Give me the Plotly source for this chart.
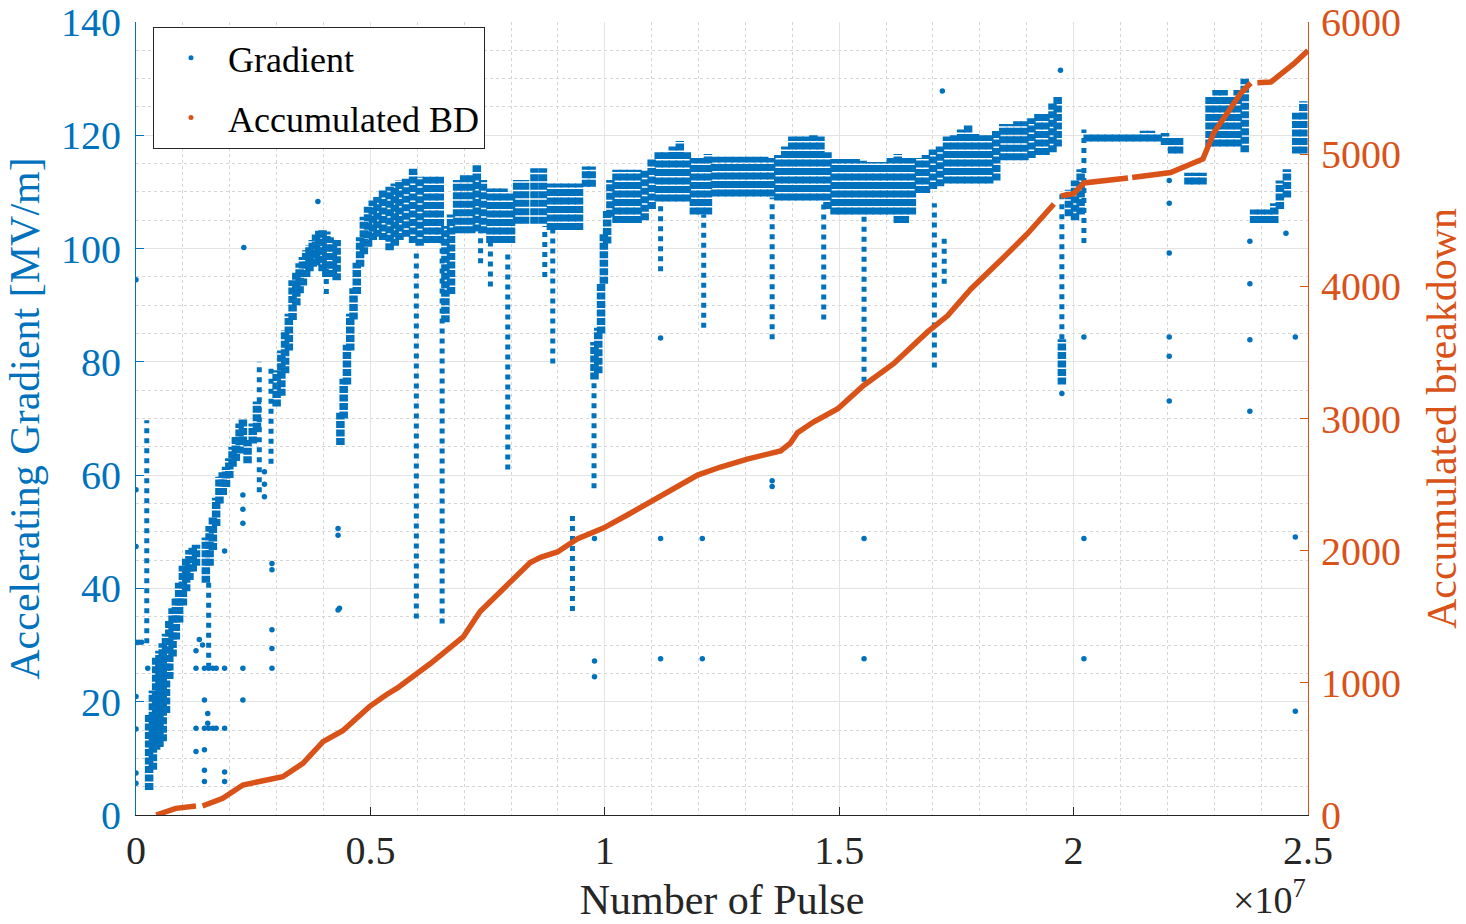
import plotly.graph_objects as go

BLUE = "#0072BD"
ORANGE = "#D95319"
FONT = "Times New Roman, Liberation Serif, DejaVu Serif, serif"

# ---- Gradient: dense band columns (pulse x1e7, low MV/m, high MV/m) ----
band_x = [0.028,0.036,0.043,0.050,0.057,0.064,0.071,0.078,0.085,0.092,0.100,0.107,0.114,0.121,0.128,
          0.149,0.157,0.164,0.171,0.178,0.185,0.192,0.199,0.206,0.213,0.221,0.228,0.238,0.249,0.258,
          0.300,0.310,0.318,0.326,0.334,0.342,0.349,0.356,0.363,0.370,0.377,0.384,0.391,0.398,0.406,0.413,0.420,0.428,
          0.436,0.443,0.450,0.457,0.464,0.471,0.478,0.486,0.495,0.505,0.515,0.527,0.541,0.552,0.562,0.576,0.591,
          0.605,0.620,0.635,0.648,0.660,0.672,0.685,0.700,0.715,0.727,0.740,0.756,0.770,0.784,0.800,0.813,0.830,
          0.850,0.868,0.885,0.900,0.915,0.930,0.945,0.960,0.972,0.978,0.986,0.992,0.998,1.005,1.012,1.025,1.040,
          1.055,1.070,1.085,1.100,1.115,1.130,1.145,1.160,1.175,1.190,1.205,1.220,1.235,1.250,1.265,1.280,1.295,
          1.310,1.325,1.340,1.355,1.370,1.385,1.400,1.415,1.430,1.445,1.460,1.475,1.490,1.505,1.520,1.535,1.550,
          1.565,1.580,1.595,1.610,1.625,1.640,1.655,1.670,1.685,1.700,1.715,1.730,1.745,1.760,1.775,1.790,1.805,
          1.820,1.835,1.850,1.865,1.880,1.895,1.910,1.925,1.940,1.955,1.966,1.975,1.990,2.003,2.015,2.030,2.045,
          2.060,2.075,2.090,2.105,2.120,2.135,2.150,2.165,2.180,2.195,2.210,2.225,2.245,2.260,2.275,2.290,2.305,
          2.320,2.335,2.350,2.365,2.385,2.400,2.415,2.428,2.440,2.455,2.475,2.490]
band_lo = [4.4,8,11.5,12,13,18,24,28,31,34,37,39.5,41.5,43,44,
           41,44,46.8,51,55,56.5,57.9,59.5,61.5,62.5,63.8,65.6,62.1,65.6,68,
           72.1,74,78,82,87.4,90,92.1,93.5,95,96,96.8,97,97.4,96,95,95,95,94.4,
           65.3,70,76,82,87.5,92,96.8,99,100.3,101.5,102.1,101.5,99.7,100.5,101.5,102.1,101,
           100.5,101,101,101,87,92,102.7,102.7,102.7,103,102.7,101,101,101,101,104.4,104.4,
           104.4,104.4,103.3,103.3,103.3,103.3,103.3,110.9,110.9,76.9,78,85,93.8,100.9,105.6,104.5,104.5,
           104.5,104.5,105,107,108.3,108.3,108.3,108.3,108.3,106,106,106,109.2,109.2,109.2,109.2,109.2,
           109.2,109.2,109.2,109.2,108.5,108.5,108.5,108.5,108.5,108.5,108.5,107,106,106,106,106,106,
           106,106,106,106,104.5,104.5,106,109.8,109.8,110.5,111,111.5,111.5,111.5,111.5,111.5,111.5,
           111.5,112,115.6,115.6,115.6,115.6,116,116.5,116.5,117,118,76,105.7,105,106,118.9,118.9,
           118.9,118.9,118.9,118.9,118.9,118.9,118.9,118.9,118.9,118.3,116.8,116.8,111.3,111.3,111.3,118,118,
           118,118,118,117,104.5,104.5,104.5,104.5,107,109,116.8,116.8]
band_hi = [17.9,22,27.9,29,30.3,32,34.4,36.5,38.5,41,44,45.5,46.8,47.2,47.7,
           49,51,52.6,56,59.7,60.5,61.5,63,65,67,69.1,70,66.2,69.1,73,
           78.5,82,85.6,88.5,94.4,96,97.4,98.5,99.7,100.6,101.5,102.5,103.3,103.5,103,102,101.5,101.5,
           71,77,83,88.5,93,97.5,102,105.6,107.4,108.5,109.1,110.3,110.9,111.5,112.1,112.4,114.1,
           112.7,112.7,112.7,112.7,104,106,112.1,113,113,114.7,112.1,110.6,110.6,110.6,110,112.1,112.1,
           114.2,114.2,111.5,111.5,111.5,111.5,111.5,114.5,114.5,83.5,86,94,102.6,106.8,112.1,113.9,113.9,
           113.9,113.9,114,116,117,117,118,119,117,116,116,116.7,116.2,116.2,116.2,116.2,116.2,
           116.2,116.2,116.2,116,116.5,118,119.8,119.8,119.8,120,119.8,117,115.8,115.8,115.8,115.8,115.5,
           115.3,115.3,115.3,116,116.7,116,116,116,116.5,117.5,118,119.8,120,121,122,120.5,120,
           120,121,122,122,122.5,122.5,123,124,124,125.6,127,84,110.4,112,114,120.4,120.4,
           120.4,120.4,120.4,120.4,120.4,120.4,120.8,120.8,120.4,120.4,119.8,119.8,113.4,113.4,113.4,127,128,
           128,127,128,130,106.9,106.9,106.9,108,112,114,124,126]

# ---- Gradient: sparse drop columns (x, low, high) ----
tail_x  = [0.023,0.155,0.263,0.288,0.406,0.598,0.653,0.735,0.756,0.793,0.872,0.889,0.931,0.977,
           1.119,1.211,1.357,1.467,1.553,1.703,1.724,1.975,2.022]
tail_lo = [30.3,26,57,62,92,34.7,33.8,97.4,93.3,61,95,79.7,36,57.7,96,86,84,87.5,76.5,79,93.8,84,101]
tail_hi = [69.7,41,80,79,97,100,102,103,101,99,104,104,53,77,108,106,109,108.5,106,108,102.2,110,121]

# ---- Gradient: isolated points ----
pt_x = [0,0,0,0,0,0,0,0,0.006,0.012,
        0.025,0.071,0.128,0.146,0.155,0.164,0.171,0.189,0.228,0.290,
        0.128,0.146,0.155,0.164,0.171,0.189,0.146,0.228,0.128,0.135,0.142,0.146,0.128,
        0.146,0.146,0.189,0.189,0.153,0.153,0.290,0.290,0.290,0.290,0.434,0.189,0.230,
        0.228,0.228,0.228,0.274,0.274,0.274,0.431,0.431,0.431,0.388,
        0.978,0.978,0.978,1.119,1.119,1.119,1.208,1.208,1.357,1.357,1.553,1.553,
        1.720,1.972,1.975,2.022,2.022,2.022,2.204,2.204,2.204,2.204,2.204,2.204,
        2.376,2.376,2.376,2.376,2.473,2.473,2.473,2.453]
pt_y = [94.5,57.4,47.4,30.5,20.9,15.2,7.4,5.6,30.5,30.5,
        25.9,25.9,25.9,25.9,25.9,25.9,25.9,25.9,25.9,25.9,
        15.3,15.3,15.3,15.3,15.3,15.3,20.3,20.3,29,31,30,11.5,11.2,
        7.9,5.9,7.6,5.9,17.9,16.2,44.4,43.3,32.7,29.4,36.5,46.6,100.2,
        56.5,54,51.5,60.6,58.4,56.2,50.6,49.4,36.2,108.3,
        48.8,27.2,24.4,84.2,48.8,27.6,48.8,27.6,59,58,48.8,27.6,
        127.8,131.5,74.4,84.4,48.8,27.6,99.2,84.4,81,73.1,108,112,
        101.3,93.8,83.9,71.3,84.4,49.1,18.3,102.7]

# ---- Accumulated breakdown (None marks gaps in the dotted trace) ----
bd_x = [0.043,0.085,0.128,None,0.142,0.185,0.228,0.285,0.313,0.356,0.399,0.441,0.498,0.534,0.557,
        0.628,0.698,0.734,0.771,0.805,0.841,0.863,0.899,0.941,0.997,1.048,1.119,1.198,1.247,1.304,
        1.375,1.396,1.411,1.445,1.497,1.552,1.616,1.689,1.731,1.781,1.845,1.902,1.958,None,1.973,
        2.000,2.022,2.116,None,2.125,2.207,2.235,2.276,2.299,2.329,2.357,2.378,None,2.392,2.421,2.442,2.470,2.500]
bd_y = [0,50,68,None,68,126,227,270,290,391,555,638,820,910,960,
        1146,1347,1540,1668,1780,1910,1950,1990,2088,2171,2270,2414,2572,2633,2693,
        2754,2814,2893,2973,3074,3250,3415,3657,3777,3980,4199,4400,4623,None,4684,
        4701,4782,4819,None,4823,4861,4903,4964,5162,5323,5463,5538,None,5540,5546,5606,5684,5785]

x_ticks = [0, 0.5, 1, 1.5, 2, 2.5]
x_ticktext = ["0", "0.5", "1", "1.5", "2", "2.5"]


def columns(xs, lo, hi):
    cx, cy = [], []
    for x, a, b in zip(xs, lo, hi):
        cx += [x, x, None]
        cy += [a, b, None]
    return cx, cy


fig = go.Figure()

bx, by = columns(band_x, band_lo, band_hi)
fig.add_trace(go.Scatter(x=bx, y=by, mode="lines", showlegend=False, hoverinfo="skip",
                         line=dict(color=BLUE, width=8.5, dash="7px,1.5px")))
tx, ty = columns(tail_x, tail_lo, tail_hi)
fig.add_trace(go.Scatter(x=tx, y=ty, mode="lines", showlegend=False, hoverinfo="skip",
                         line=dict(color=BLUE, width=5, dash="5px,5px")))
fig.add_trace(go.Scatter(x=pt_x, y=pt_y, mode="markers", showlegend=False,
                         marker=dict(color=BLUE, size=5.5)))
fig.add_trace(go.Scatter(x=bd_x, y=bd_y, mode="lines", yaxis="y2", showlegend=False,
                         line=dict(color=ORANGE, width=5.5), connectgaps=False))

# legend entries
fig.add_trace(go.Scatter(x=[None], y=[None], mode="markers", name="Gradient", legendgroup="g",
                         marker=dict(color=BLUE, size=5)))
fig.add_trace(go.Scatter(x=[None], y=[None], mode="markers", name="Accumulated BD", legendgroup="b",
                         yaxis="y2", marker=dict(color=ORANGE, size=5)))

grid_major = "#e3e3e3"
grid_minor = "#d6d6d6"

fig.update_layout(
    width=1466, height=924,
    margin=dict(l=136, r=158, t=22, b=109, autoexpand=False),
    paper_bgcolor="white", plot_bgcolor="white",
    font=dict(family=FONT, size=40, color="#262626"),
    showlegend=True,
    legend=dict(x=0.0145, y=0.994, xanchor="left", yanchor="top",
                bgcolor="white", bordercolor="#262626", borderwidth=1,
                font=dict(family=FONT, size=36, color="#000000"),
                tracegroupgap=10, itemwidth=64, itemsizing="trace"),
    xaxis=dict(range=[0, 2.5], tickvals=x_ticks, ticktext=x_ticktext, automargin=False,
               ticks="inside", ticklen=8, tickcolor="#262626",
               showline=True, linecolor="#262626", linewidth=1, mirror=False,
               showgrid=True, gridcolor=grid_major, gridwidth=1, zeroline=False,
               minor=dict(dtick=0.1, showgrid=True, gridcolor=grid_minor, griddash="dot"),
               tickfont=dict(family=FONT, size=40, color="#262626"),
               title=dict(text="Number of Pulse", font=dict(family=FONT, size=42, color="#262626"),
                          standoff=12)),
    yaxis=dict(range=[0, 140], dtick=20, ticks="inside", ticklen=8, tickcolor=BLUE, automargin=False,
               showline=True, linecolor=BLUE, linewidth=1, ticklabelstandoff=6,
               showgrid=True, gridcolor=grid_major, gridwidth=1, zeroline=False,
               minor=dict(dtick=5, showgrid=True, gridcolor=grid_minor, griddash="dot"),
               tickfont=dict(family=FONT, size=40, color=BLUE),
               title=dict(text="Accelerating Gradient [MV/m]", font=dict(family=FONT, size=42, color=BLUE),
                          standoff=8)),
    yaxis2=dict(range=[0, 6000], dtick=1000, overlaying="y", side="right", automargin=False,
                ticks="inside", ticklen=8, tickcolor=ORANGE, ticklabelstandoff=4,
                showline=True, linecolor=ORANGE, linewidth=1, showgrid=False, zeroline=False,
                tickfont=dict(family=FONT, size=40, color=ORANGE),
                title=dict(text="Accumulated breakdown", font=dict(family=FONT, size=42, color=ORANGE),
                           standoff=26)),
)

fig.add_annotation(text="×10<sup>7</sup>", xref="paper", yref="paper", x=1.0, y=-0.103,
                   xanchor="right", yanchor="middle", showarrow=False,
                   font=dict(family=FONT, size=38, color="#262626"))

fig.write_html("out.html")
